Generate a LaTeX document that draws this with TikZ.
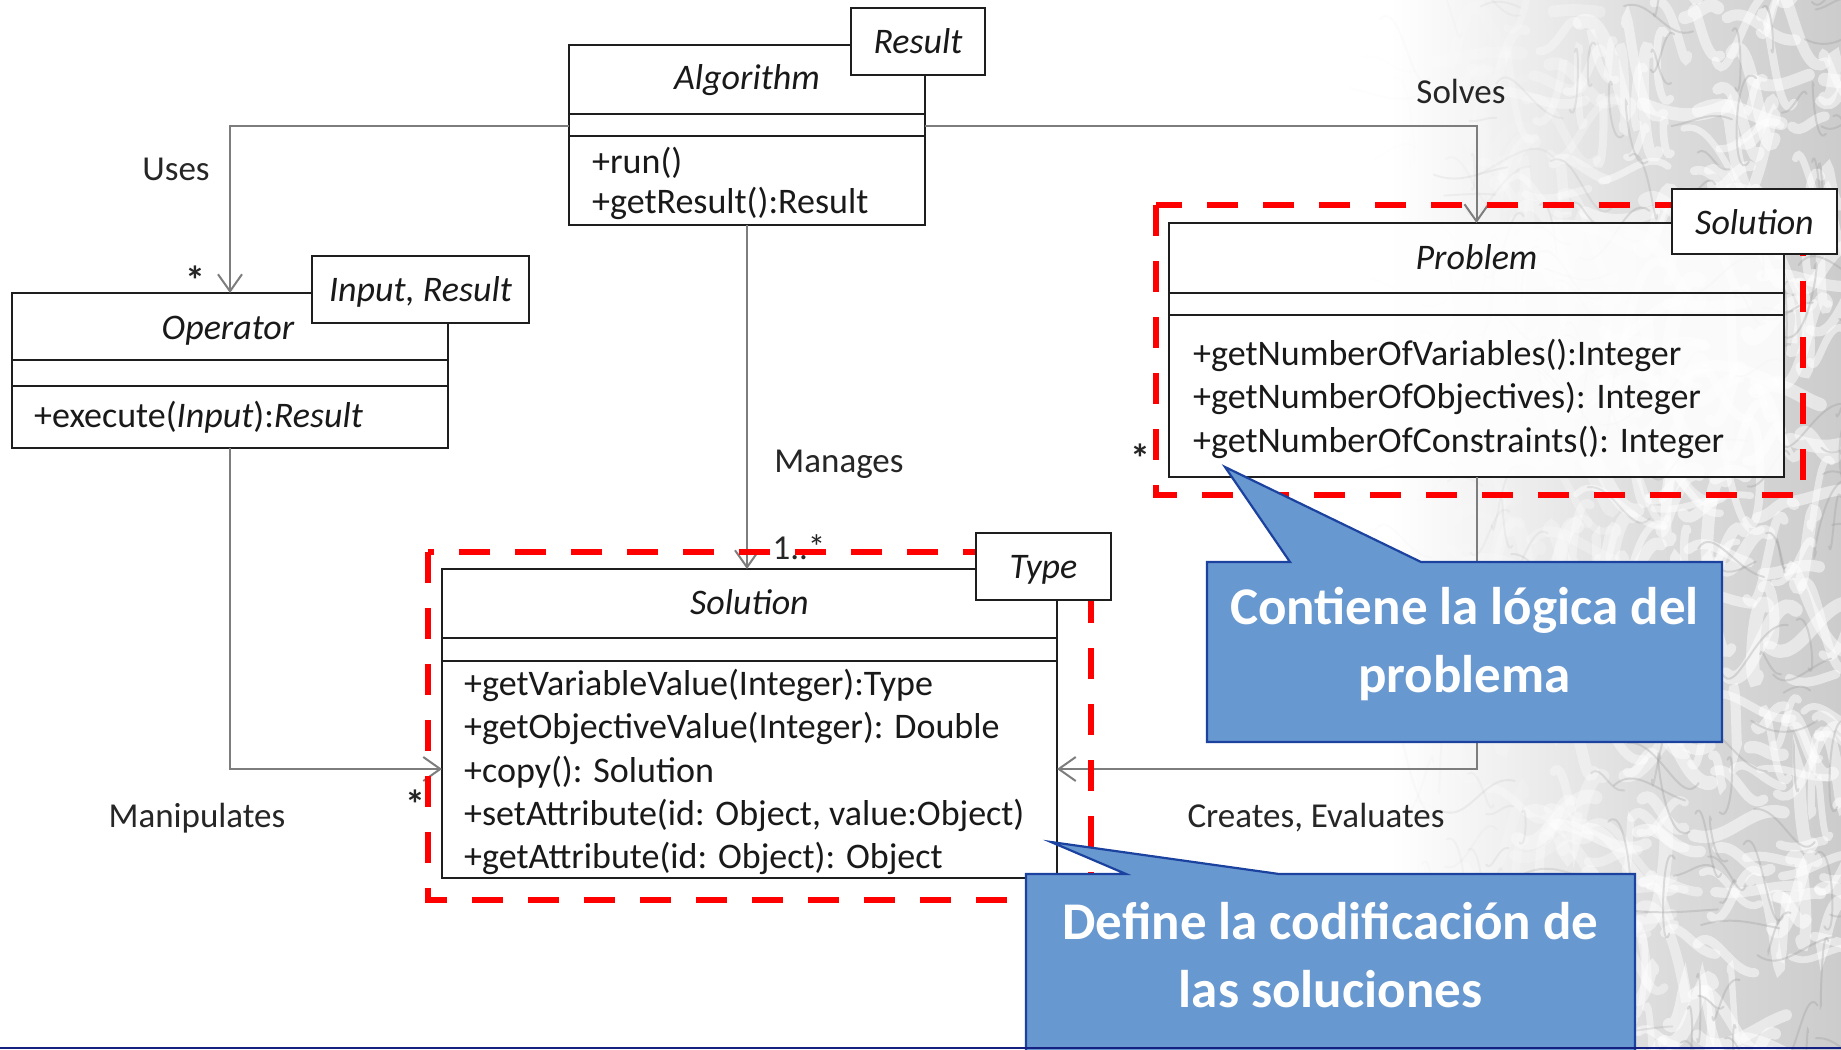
\documentclass[tikz,border=0pt]{standalone}
\usepackage{fontspec}
\setmainfont{Carlito}
\usetikzlibrary{arrows.meta}

\definecolor{linkgray}{RGB}{125,125,125}
\definecolor{boxline}{RGB}{30,30,30}
\definecolor{calloutfill}{RGB}{104,152,208}
\definecolor{calloutline}{RGB}{28,66,160}
\definecolor{slideline}{RGB}{22,32,130}

\newcommand\umlfont{\fontsize{36}{43}\selectfont}
\newcommand\labelfont{\fontsize{35}{42}\selectfont}
\newcommand\notefont{\fontsize{53}{68}\selectfont\bfseries}

\tikzset{
  classbox/.style={draw=boxline, line width=2.2pt, fill=white, fill opacity=0.88,
    text opacity=1, inner sep=0pt, outer sep=0pt},
  tmplbox/.style={draw=boxline, line width=2.2pt, fill=white, inner sep=0pt, outer sep=0pt},
  tmpltext/.style={font=\umlfont\itshape, text=black!90, anchor=base, inner sep=0pt},
  classname/.style={font=\umlfont\itshape, text=black!90, anchor=base, inner sep=0pt},
  member/.style={font=\umlfont, text=black!90, anchor=base west, inner sep=0pt},
  divider/.style={draw=boxline, line width=2.2pt},
  assoc/.style={draw=linkgray, line width=2pt,
    -{Straight Barb[length=17pt,width=24pt,line width=2pt]}},
  lbl/.style={font=\labelfont, text=black!85, inner sep=0pt},
  mult/.style={font=\fontsize{40}{42}\selectfont\bfseries, text=black!85, inner sep=0pt},
  focus/.style={draw=red, line width=6.5pt, dash pattern=on 31pt off 25pt},
  notebody/.style={fill=calloutfill, draw=calloutline, line width=2.2pt, line join=miter},
  notetext/.style={font=\notefont, text=white, align=center, inner sep=0pt},
}

\begin{document}
\begin{tikzpicture}[x=1pt, y=-1pt]
\useasboundingbox (0,0) rectangle (1841,1049);
\fill[white] (0,0) rectangle (1841,1049);

% textured slide background fading in on the right
\begin{scope}
  \clip (1300,0) rectangle (1841,1049);
  \shade[left color=white, right color=black!13] (1390,0) rectangle (1640,1049);
  \shade[left color=black!13, right color=black!20] (1640,0) rectangle (1841,1049);
  \pgfmathsetseed{2024}
  \foreach \k in {1,...,420}{
    \pgfmathsetmacro\txa{1400+450*rnd}
    \pgfmathsetmacro\tya{-30+1110*rnd}
    \pgfmathsetmacro\topa{0.5*min(1,max(0,(\txa-1410)/260))}
    \pgfmathsetmacro\tang{360*rnd}
    \pgfmathsetmacro\tlen{30+70*rnd}
    \pgfmathsetmacro\tbend{-70+140*rnd}
    \pgfmathsetmacro\tw{6+8*rnd}
    \pgfmathsetmacro\tout{\tang}
    \pgfmathsetmacro\tin{\tang+180+\tbend}
    \pgfmathsetmacro\tdir{\tang+\tbend/2}
    \draw[white, line width=\tw pt, line cap=round, opacity=\topa]
      (\txa,\tya) to[out=\tout, in=\tin] ++(\tdir:\tlen);
  }
  \foreach \k in {1,...,220}{
    \pgfmathsetmacro\txa{1400+450*rnd}
    \pgfmathsetmacro\tya{-30+1110*rnd}
    \pgfmathsetmacro\topa{0.30*min(1,max(0,(\txa-1410)/260))}
    \pgfmathsetmacro\tang{360*rnd}
    \pgfmathsetmacro\tlen{25+60*rnd}
    \pgfmathsetmacro\tbend{-80+160*rnd}
    \pgfmathsetmacro\tout{\tang}
    \pgfmathsetmacro\tin{\tang+180+\tbend}
    \pgfmathsetmacro\tdir{\tang+\tbend/2}
    \draw[black!40, line width=2pt, line cap=round, opacity=\topa]
      (\txa,\tya) to[out=\tout, in=\tin] ++(\tdir:\tlen);
  }
\end{scope}

% class boxes
\node[classbox, minimum width=356pt, minimum height=180pt] (alg)  at (747,135) {};
\node[classbox, minimum width=436pt, minimum height=155pt] (op)   at (230,370.5) {};
\node[classbox, minimum width=615pt, minimum height=254pt] (prob) at (1476.5,350) {};
\node[classbox, minimum width=615pt, minimum height=309pt] (sol)  at (749.5,723.5) {};

% associations
\draw[assoc] ([yshift=-81pt]alg.north west) -| (op.north);
\draw[assoc] ([yshift=-81pt]alg.north east) -| (prob.north);
\draw[assoc] (alg.south) -- (alg.south |- sol.north);
\draw[assoc] (op.south) |- ([yshift=-45.5pt]sol.west);
\draw[assoc] (prob.south) |- ([yshift=-45.5pt]sol.east);

% highlighted regions
\draw[focus] (1156,205) rectangle (1803,495);
\draw[focus] (428,552) rectangle (1091,900);

% compartments
\draw[divider] (alg.west |- 0,114) -- (alg.east |- 0,114);
\draw[divider] (alg.west |- 0,136) -- (alg.east |- 0,136);
\draw[divider] (op.west |- 0,360) -- (op.east |- 0,360);
\draw[divider] (op.west |- 0,386) -- (op.east |- 0,386);
\draw[divider] (prob.west |- 0,293) -- (prob.east |- 0,293);
\draw[divider] (prob.west |- 0,315) -- (prob.east |- 0,315);
\draw[divider] (sol.west |- 0,638) -- (sol.east |- 0,638);
\draw[divider] (sol.west |- 0,661) -- (sol.east |- 0,661);

% class names and members
\node[classname] (algName) at (747,89) {Algorithm};
\node[member] (algRun) at (592,173) {+run()};
\node[member] (algGet) at (592,213) {+getResult():Result};

\node[classname] (opName) at (228,339) {Operator};
\node[member] (opExec) at (34,427) {+execute(\textit{Input}):\textit{Result}};

\node[classname] (probName) at (1476.5,269) {Problem};
\node[member] (probVar) at (1193,365) {+getNumberOfVariables():Integer};
\node[member] (probObj) at (1193,408) {+getNumberOfObjectives): Integer};
\node[member] (probCon) at (1193,452) {+getNumberOfConstraints(): Integer};

\node[classname] (solName) at (749.5,614) {Solution};
\node[member] (solVar) at (464,695) {+getVariableValue(Integer):Type};
\node[member] (solObj) at (464,738) {+getObjectiveValue(Integer): Double};
\node[member] (solCopy) at (464,782) {+copy(): Solution};
\node[member] (solSet) at (464,825) {+setAttribute(id: Object, value:Object)};
\node[member] (solGet) at (464,868) {+getAttribute(id: Object): Object};

% template parameters
\node[tmplbox, minimum width=134pt, minimum height=67pt] (algT)  at (918,41.5) {};
\node[tmpltext] (algTtext) at (918,53) {Result};
\node[tmplbox, minimum width=217pt, minimum height=67pt] (opT)   at (420.5,289.5) {};
\node[tmpltext] (opTtext) at (420.5,301) {Input, Result};
\node[tmplbox, minimum width=165pt, minimum height=65pt] (probT) at (1754.5,221.5) {};
\node[tmpltext] (probTtext) at (1754.5,234) {Solution};
\node[tmplbox, minimum width=135pt, minimum height=67pt] (solT)  at (1043.5,566.5) {};
\node[tmpltext] (solTtext) at (1043.5,578) {Type};

% association labels and multiplicities
\node[lbl] (lUses) at (176,169) {Uses};
\node[mult] (mUses) at (195,280) {*};
\node[lbl] (lSolves) at (1461,91) {Solves};
\node[lbl] (lManages) at (839,464) {Manages};
\node[lbl] (mManages) at (799,547) {1..*};
\node[mult] (mProb) at (1140,458) {*};
\node[lbl] (lManip) at (197,818) {Manipulates};
\node[mult] (mSol) at (415,804) {*};
\node[lbl] (lCreates) at (1316,818) {Creates, Evaluates};

% callouts
\path[notebody] (1207,562) -- (1290,562) -- (1225,467) -- (1421,562) -- (1722,562)
  -- (1722,742) -- (1207,742) -- cycle;
\node[notetext] (noteProb) at (1464.5,644) {Contiene la lógica del\\problema};
\path[notebody] (1026,874) -- (1126,874) -- (1051,842) -- (1279,874) -- (1635,874)
  -- (1635,1070) -- (1026,1070) -- cycle;
\node[notetext] (noteSol) at (1330.5,955) {Define la codificación de\\las soluciones};

% slide footer rule
\draw[slideline, line width=2.5pt] (0,1047.8) -- (1841,1047.8);
\end{tikzpicture}
\end{document}
